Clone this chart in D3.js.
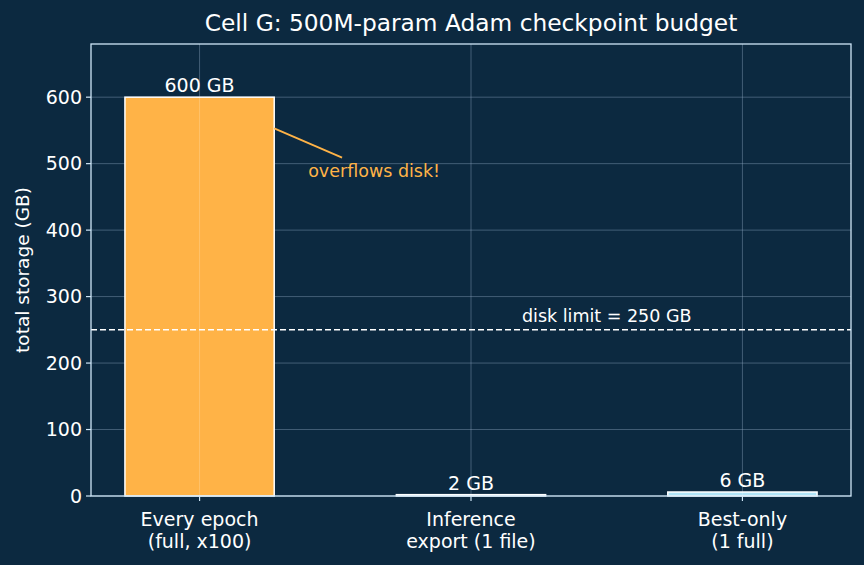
<!DOCTYPE html>
<html><head><meta charset="utf-8">
<script src="https://cdn.jsdelivr.net/npm/d3@7"></script>
<style>
html,body{margin:0;padding:0;background:#0c2940;}
svg{display:block;font-family:"DejaVu Sans",sans-serif;}
</style></head><body>
<svg id="c" width="864" height="565"></svg>
<script>
const categories = ["Every epoch\n(full, x100)", "Inference\nexport (1 file)", "Best-only\n(1 full)"];
const values = [600, 2, 6];
const barLabels = ["600 GB", "2 GB", "6 GB"];
const barColors = ["#ffb347", "#f4f4f4", "#b0e4f7"];
const yTicks = [0, 100, 200, 300, 400, 500, 600];
const diskLimit = 250;
const title = "Cell G: 500M-param Adam checkpoint budget";
const yLabel = "total storage (GB)";

const W = 864, H = 565;
const m = {l: 91, r: 13, t: 44, b: 69};
const svg = d3.select("#c");
svg.append("rect").attr("width", W).attr("height", H).attr("fill", "#0c2940");
const x = d3.scaleLinear().domain([-0.4, 2.4]).range([m.l, W - m.r]);
const y = d3.scaleLinear().domain([0, 680]).range([H - m.b, m.t]);
const fg = "#ffffff", spine = "#cfe6f7";

// grid
const g = svg.append("g");
yTicks.forEach(t => g.append("line").attr("x1", m.l).attr("x2", W - m.r)
  .attr("y1", y(t)).attr("y2", y(t)).attr("stroke", "#8aa4bd").attr("stroke-opacity", 0.55).attr("stroke-width", 0.8));
categories.forEach((c, i) => g.append("line").attr("y1", m.t).attr("y2", H - m.b)
  .attr("x1", x(i)).attr("x2", x(i)).attr("stroke", "#8aa4bd").attr("stroke-opacity", 0.55).attr("stroke-width", 0.8));

// bars
const bw = 0.55;
values.forEach((v, i) => {
  svg.append("rect").attr("x", x(i - bw / 2)).attr("width", x(bw) - x(0))
    .attr("y", y(v)).attr("height", y(0) - y(v))
    .attr("fill", barColors[i]).attr("stroke", "#ffffff").attr("stroke-width", 1.5);
  svg.append("text").attr("x", x(i)).attr("y", y(v) - 5).attr("text-anchor", "middle")
    .attr("fill", fg).attr("font-size", 19).text(barLabels[i]);
});
// faint vertical grid visible through bars
categories.forEach((c, i) => svg.append("line").attr("y1", y(values[i])).attr("y2", H - m.b)
  .attr("x1", x(i)).attr("x2", x(i)).attr("stroke", "#ffffff").attr("stroke-opacity", 0.25).attr("stroke-width", 0.8));

// disk limit
svg.append("line").attr("x1", m.l).attr("x2", W - m.r).attr("y1", y(diskLimit)).attr("y2", y(diskLimit))
  .attr("stroke", "#ffffff").attr("stroke-width", 1.6).attr("stroke-dasharray", "6,3");
svg.append("text").attr("x", x(1.5)).attr("y", y(diskLimit) - 8).attr("text-anchor", "middle")
  .attr("fill", fg).attr("font-size", 17.5).text("disk limit = " + diskLimit + " GB");

// annotation
svg.append("line").attr("x1", x(0.275)).attr("y1", y(553)).attr("x2", x(0.525)).attr("y2", y(509))
  .attr("stroke", "#ffb347").attr("stroke-width", 1.8);
svg.append("text").attr("x", x(0.4)).attr("y", y(480)).attr("fill", "#ffb347")
  .attr("font-size", 17.5).text("overflows disk!");

// axes
const frame = svg.append("g");
frame.append("rect").attr("x", m.l).attr("y", m.t).attr("width", W - m.r - m.l).attr("height", H - m.b - m.t)
  .attr("fill", "none").attr("stroke", spine).attr("stroke-width", 1.3);
yTicks.forEach(t => {
  frame.append("line").attr("x1", m.l - 5).attr("x2", m.l).attr("y1", y(t)).attr("y2", y(t)).attr("stroke", spine).attr("stroke-width", 1.2);
  frame.append("text").attr("x", m.l - 9).attr("y", y(t)).attr("dy", "0.36em").attr("text-anchor", "end")
    .attr("fill", fg).attr("font-size", 19).text(t);
});
categories.forEach((c, i) => {
  frame.append("line").attr("x1", x(i)).attr("x2", x(i)).attr("y1", H - m.b).attr("y2", H - m.b + 5).attr("stroke", spine).attr("stroke-width", 1.2);
  const t = frame.append("text").attr("text-anchor", "middle").attr("fill", fg).attr("font-size", 19);
  c.split("\n").forEach((ln, k) => t.append("tspan").attr("x", x(i)).attr("y", H - m.b + 30 + k * 22).text(ln));
});
svg.append("text").attr("transform", `translate(29,${(m.t + H - m.b) / 2}) rotate(-90)`).attr("text-anchor", "middle")
  .attr("fill", fg).attr("font-size", 18.5).text(yLabel);
svg.append("text").attr("x", (m.l + W - m.r) / 2).attr("y", 31).attr("text-anchor", "middle")
  .attr("fill", fg).attr("font-size", 23.3).text(title);
</script>
</body></html>
